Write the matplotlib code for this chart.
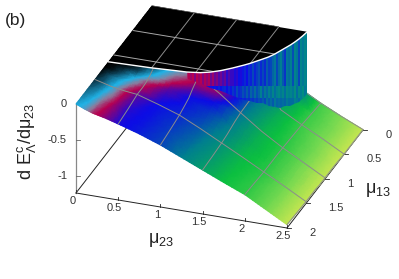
import numpy as np
import matplotlib
matplotlib.use("Agg")
import matplotlib.pyplot as plt
import matplotlib.tri as mtri
from matplotlib.colors import LinearSegmentedColormap
from matplotlib.patches import Polygon

plt.rcParams['font.family'] = ['Liberation Sans', 'DejaVu Sans']
plt.rcParams['mathtext.fontset'] = 'custom'
plt.rcParams['mathtext.rm'] = 'Liberation Sans'
plt.rcParams['mathtext.it'] = 'Liberation Sans'

# surface nodes
MU23 = [0, 0.1, 0.2, 0.35, 0.5, 0.75, 1, 1.25, 1.5, 1.75, 2, 2.25, 2.5]
MU13 = [2, 1.75, 1.5, 1.35, 1.25, 1.15, 1, 0.75, 0.5, 0.25, 0]

# height of the lower sheet, one row per MU13 value
Z_ROWS = [
    [0, -0.05, -0.09, -0.13, -0.18, -0.27, -0.375, -0.50, -0.625, -0.75, -0.87, -1.03, -1.19],
    [0, -0.04, -0.07, -0.10, -0.15, -0.24, -0.34, -0.47, -0.61, -0.75, -0.88, -1.04, -1.20],
    [0, -0.03, -0.06, -0.09, -0.11, -0.20, -0.30, -0.44, -0.59, -0.74, -0.895, -1.05, -1.21],
    [0, -0.03, -0.05, -0.08, -0.11, -0.17, -0.26, -0.40, -0.57, -0.73, -0.895, -1.05, -1.21],
    [0, -0.02, -0.05, -0.08, -0.10, -0.15, -0.23, -0.36, -0.55, -0.73, -0.895, -1.05, -1.21],
    [0, -0.01, -0.03, -0.05, -0.07, -0.12, -0.17, -0.32, -0.53, -0.72, -0.895, -1.05, -1.22],
    [0, 0, 0, 0, 0, 0, -0.10, -0.29, -0.51, -0.72, -0.90, -1.06, -1.22],
    [0, 0, 0, 0, 0, 0, 0, -0.10, -0.50, -0.73, -0.91, -1.07, -1.22],
    [0, 0, 0, 0, 0, 0, 0, 0, -0.20, -0.76, -0.92, -1.07, -1.23],
    [0, 0, 0, 0, 0, 0, 0, 0, 0, -0.78, -0.94, -1.09, -1.23],
    [0, 0, 0, 0, 0, 0, 0, 0, 0, -0.80, -0.96, -1.10, -1.23],
]

# colour value of the lower sheet
C_ROWS = [
    [0.20, 0.26, 0.36, 0.42, 0.49, 0.52, 0.56, 0.62, 0.70, 0.78, 0.82, 0.90, 1.00],
    [0.14, 0.20, 0.30, 0.40, 0.48, 0.51, 0.55, 0.60, 0.68, 0.77, 0.82, 0.90, 1.00],
    [0.06, 0.12, 0.22, 0.36, 0.44, 0.50, 0.53, 0.58, 0.66, 0.76, 0.81, 0.90, 1.00],
    [0.02, 0.10, 0.17, 0.28, 0.38, 0.47, 0.51, 0.56, 0.64, 0.75, 0.81, 0.90, 1.00],
    [0.00, 0.03, 0.10, 0.22, 0.33, 0.44, 0.50, 0.54, 0.63, 0.74, 0.81, 0.90, 1.00],
    [0.00, 0.01, 0.03, 0.08, 0.20, 0.36, 0.44, 0.50, 0.62, 0.74, 0.81, 0.90, 1.00],
    [0.00, 0.00, 0.00, 0.00, 0.00, 0.20, 0.34, 0.42, 0.60, 0.74, 0.81, 0.90, 1.00],
    [0.00, 0.00, 0.00, 0.00, 0.00, 0.00, 0.00, 0.30, 0.58, 0.73, 0.82, 0.90, 1.00],
    [0.00, 0.00, 0.00, 0.00, 0.00, 0.00, 0.00, 0.00, 0.30, 0.72, 0.83, 0.91, 1.00],
    [0.00, 0.00, 0.00, 0.00, 0.00, 0.00, 0.00, 0.00, 0.00, 0.70, 0.83, 0.91, 1.00],
    [0.00, 0.00, 0.00, 0.00, 0.00, 0.00, 0.00, 0.00, 0.00, 0.60, 0.84, 0.92, 1.00],
]

# edge of the flat black plateau and the foot of the step below it
EDGE_MU23 = [0, 0.25, 0.5, 0.75, 0.9, 1.05, 1.15, 1.25, 1.35, 1.45, 1.5,
             1.55, 1.6, 1.64, 1.68, 1.71, 1.74, 1.77, 1.79, 1.81, 1.825, 1.839]
EDGE_MU13 = [1.14, 1.13, 1.12, 1.10, 1.09, 1.06, 1.02, 0.96, 0.88, 0.79, 0.74,
             0.68, 0.62, 0.57, 0.50, 0.43, 0.36, 0.29, 0.23, 0.16, 0.09, 0]
FOOT_Z = [0, 0, 0, 0, -0.10, -0.15, -0.22, -0.29, -0.39, -0.48, -0.53,
          -0.58, -0.62, -0.68, -0.74, -0.785, -0.81, -0.85, -0.86, -0.87, -0.865, -0.86]

# colour of the thin strips on the step, upper, middle and lower part
STRIP_UP = [0.36, 0.38, 0.40, 0.38, 0.42, 0.38, 0.40,
            0.38, 0.42, 0.39, 0.41, 0.39, 0.43, 0.40, 0.44,
            0.42, 0.45, 0.43, 0.46, 0.44, 0.48, 0.45, 0.47,
            0.47, 0.49, 0.48, 0.50, 0.49, 0.51, 0.53, 0.50, 0.54,
            0.52, 0.56, 0.52, 0.55, 0.57, 0.53, 0.56, 0.53, 0.58, 0.55,
            0.56, 0.59, 0.61, 0.56, 0.60, 0.62, 0.58, 0.54, 0.61, 0.60,
            0.62, 0.57, 0.63, 0.61, 0.56, 0.63, 0.61, 0.63, 0.62]
STRIP_MID = [0.46, 0.48, 0.47, 0.50, 0.47, 0.50, 0.48,
             0.50, 0.48, 0.50, 0.49, 0.51, 0.49, 0.50, 0.51,
             0.50, 0.52, 0.50, 0.52, 0.53, 0.50, 0.53, 0.51,
             0.54, 0.52, 0.56, 0.53, 0.54, 0.57, 0.55, 0.58, 0.55,
             0.59, 0.57, 0.60, 0.57, 0.59, 0.62, 0.58, 0.61, 0.59, 0.62,
             0.60, 0.63, 0.60, 0.62, 0.64, 0.61, 0.63, 0.60, 0.64, 0.62,
             0.63, 0.61, 0.65, 0.60, 0.64, 0.62, 0.65, 0.61, 0.62]
STRIP_LOW = [0.50, 0.50, 0.50, 0.50, 0.50, 0.50, 0.50,
             0.50, 0.50, 0.50, 0.50, 0.50, 0.50, 0.50, 0.50,
             0.50, 0.50, 0.50, 0.50, 0.50, 0.50, 0.50, 0.50,
             0.50, 0.51, 0.50, 0.52, 0.51, 0.53, 0.52, 0.54, 0.53,
             0.55, 0.54, 0.56, 0.55, 0.57, 0.56, 0.58, 0.56, 0.60, 0.58,
             0.60, 0.58, 0.61, 0.59, 0.60, 0.59, 0.60, 0.59, 0.61, 0.60,
             0.60, 0.60, 0.62, 0.61, 0.60, 0.62, 0.61, 0.60, 0.62]

GRID_23 = [0.5, 1, 1.5, 2]
GRID_13 = [0.5, 1, 1.5]
TICKS_23 = [0, 0.5, 1, 1.5, 2, 2.5]
TICKS_13 = [0, 0.5, 1, 1.5, 2]
TICKS_Z = [0, -0.5, -1]
Z_FLOOR = -1.236

cmap = LinearSegmentedColormap.from_list('steps', [
    (0.0, '#000000'), (0.10, '#10506a'), (0.22, '#20b4e8'), (0.30, '#8a80a0'),
    (0.38, '#b80050'), (0.50, '#0c0ce6'), (0.62, '#007f90'), (0.78, '#0cc040'),
    (0.90, '#70d850'), (1.0, '#c4e650')])


def project(m23, m13, z):
    m23, m13, z = np.asarray(m23, float), np.asarray(m13, float), np.asarray(z, float)
    return 76 + 84.4 * m23 + 38 * (2 - m13), 104 + 14 * m23 - 49 * (2 - m13) - 72 * z


def fmt(v):
    return f'{v:g}'


fig = plt.figure(figsize=(3.99, 2.79), dpi=100)
ax = fig.add_axes([0, 0, 1, 1])
ax.set_xlim(0, 399)
ax.set_ylim(279, 0)
ax.axis('off')

line_col = '#222222'
text_col = '#333333'
grid_col = '#8c8c8c'

# floor axes
ax.plot(*project([0, 0], [2, 0], [Z_FLOOR, Z_FLOOR]), color=line_col, lw=0.7, zorder=1)
ax.plot(*project([0, 2.5], [2, 2], [Z_FLOOR, Z_FLOOR]), color=line_col, lw=0.7, zorder=1)
ax.plot(*project([2.5, 2.5], [2, 0], [Z_FLOOR, Z_FLOOR]), color=line_col, lw=0.7, zorder=1)
ax.plot(*project([0, 0], [2, 2], [Z_FLOOR, 0]), color='#888888', lw=0.9, zorder=1)

for t in TICKS_23:
    x, y = project(t, 2, Z_FLOOR)
    ax.plot([x, x], [y, y - 3], color=line_col, lw=0.6, zorder=1)
    ax.text(x - 3.5, y + 8, fmt(t), ha='center', va='center', fontsize=8, color=text_col)
for t in TICKS_13:
    x, y = project(2.5, t, Z_FLOOR)
    ax.plot([x, x + 4], [y, y], color=line_col, lw=0.6, zorder=1)
    ax.text(x + 22.5, y + 5, fmt(t), ha='left', va='center', fontsize=8, color=text_col)
for t in TICKS_Z:
    x, y = project(0, 2, t)
    ax.plot([x, x + 4], [y, y], color='#666666', lw=0.6, zorder=1)
    ax.text(x - 9, y, fmt(t), ha='right', va='center', fontsize=8, color=text_col)

# lower sheet, refined linearly so the colormap bands stay smooth
g23, g13 = np.meshgrid(MU23, MU13)
Z = np.array(Z_ROWS)
C = np.array(C_ROWS)
tri = mtri.Triangulation(g23.ravel(), g13.ravel())
refiner = mtri.UniformTriRefiner(tri)
fine, fine_c = refiner.refine_field(C.ravel(), mtri.LinearTriInterpolator(tri, C.ravel()), subdiv=3)
_, fine_z = refiner.refine_field(Z.ravel(), mtri.LinearTriInterpolator(tri, Z.ravel()), subdiv=3)
px, py = project(fine.x, fine.y, fine_z)
ax.tripcolor(mtri.Triangulation(px, py, fine.triangles), fine_c, shading='gouraud',
             cmap=cmap, vmin=0, vmax=1, zorder=2)

# grid on the lower sheet, plus its back and right edges
for v in GRID_23 + [2.5]:
    j = MU23.index(v)
    ax.plot(*project(g23[:, j], g13[:, j], Z[:, j]), color=grid_col, lw=0.7, zorder=3)
for v in GRID_13 + [0]:
    i = MU13.index(v)
    ax.plot(*project(g23[i], g13[i], Z[i]), color=grid_col, lw=0.7, zorder=3)

# step face, thin strips clipped to the outline between edge and foot
top_x, top_y = project(EDGE_MU23, EDGE_MU13, np.zeros(len(EDGE_MU23)))
foot_x, foot_y = project(EDGE_MU23, EDGE_MU13, FOOT_Z)
outline = np.r_[np.c_[top_x[4:], top_y[4:]], np.c_[foot_x[4:], foot_y[4:]][::-1]]
strips = np.array([STRIP_UP, STRIP_MID, STRIP_LOW])
mesh = ax.pcolormesh(np.linspace(186, 308, strips.shape[1] + 1), [25, 86, 98, 115], strips,
                     cmap=cmap, vmin=0, vmax=1, zorder=4)
mesh.set_clip_path(Polygon(outline, transform=ax.transData))

# plateau
plat_x, plat_y = project(list(EDGE_MU23) + [0], list(EDGE_MU13) + [0], np.zeros(len(EDGE_MU23) + 1))
plateau = ax.fill(plat_x, plat_y, color='black', lw=0, zorder=5)[0]
for v in GRID_23[:3]:
    line, = ax.plot(*project([v, v], [0, 2], [0, 0]), color=grid_col, lw=0.7, zorder=6)
    line.set_clip_path(plateau)
for v in GRID_13[:2]:
    line, = ax.plot(*project([0, 2.5], [v, v], [0, 0]), color='#a8a8a8', lw=0.7, zorder=6)
    line.set_clip_path(plateau)
ax.plot(top_x, top_y, color='white', lw=1.0, zorder=7)

ax.text(5, 20, '(b)', fontsize=12.5, ha='left', va='center', color='#222222')
ax.text(161, 240, r'$\mu_{23}$', fontsize=13, ha='center', va='center', color='#222222')
ax.text(378, 190, r'$\mu_{13}$', fontsize=13, ha='center', va='center', color='#222222')
ax.text(26, 142, r'd E$^{\rm c}_{\Lambda}$/d$\mu_{23}$', fontsize=13, rotation=90,
        ha='center', va='center', color='#222222')

fig.savefig('out.png', dpi=100)
